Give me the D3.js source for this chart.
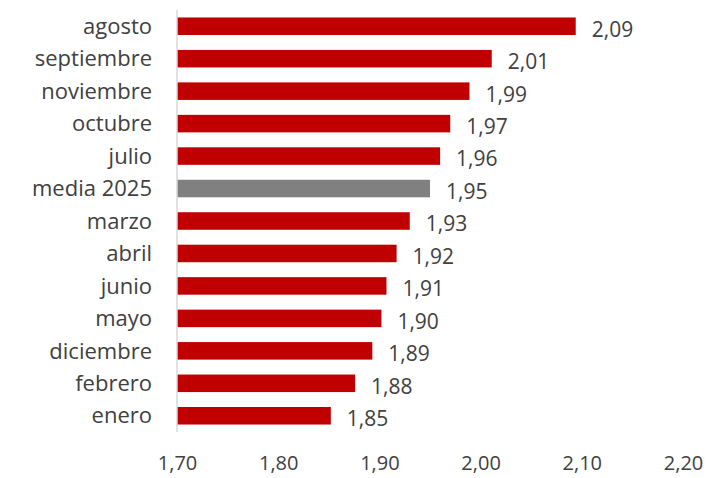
<!DOCTYPE html>
<html>
<head>
<meta charset="utf-8">
<script src="https://cdn.jsdelivr.net/npm/d3@7"></script>
<style>
  body { margin: 0; background: #fff; }
  svg text { font-family: "Open Sans", "Noto Sans", sans-serif; fill: #404040; }
</style>
</head>
<body>
<script>
// months, sorted as in the chart (top to bottom)
const months = ["agosto", "septiembre", "noviembre", "octubre", "julio", "media 2025",
  "marzo", "abril", "junio", "mayo", "diciembre", "febrero", "enero"];
const values = [2.094, 2.011, 1.989, 1.970, 1.960, 1.950,
  1.930, 1.917, 1.907, 1.902, 1.893, 1.876, 1.852];
const xTicks = [1.70, 1.80, 1.90, 2.00, 2.10, 2.20];

const data = months.map((m, i) => ({ month: m, value: values[i] }));

const fullWidth = 708;
const fullHeight = 478;
const margin = { top: 10, right: 25, bottom: 46, left: 177 };
const width = fullWidth - margin.left - margin.right;
const height = fullHeight - margin.top - margin.bottom;

const fmt = v => d3.format(".2f")(v).replace(".", ",");

const svg = d3.select("body").append("svg")
  .attr("width", fullWidth)
  .attr("height", fullHeight)
  .append("g")
  .attr("transform", `translate(${margin.left},${margin.top})`);

const x = d3.scaleLinear()
  .domain([1.70, 2.20])
  .range([0, width]);

const y = d3.scaleBand()
  .domain(months)
  .range([0, height])
  .paddingInner(0.46)
  .paddingOuter(0.23);

// bottom tick labels only, no line
const xAxis = svg.append("g")
  .attr("transform", `translate(0,${height})`)
  .call(d3.axisBottom(x).tickValues(xTicks).tickFormat(fmt).tickSize(0).tickPadding(24));
xAxis.select(".domain").remove();
xAxis.selectAll("text").style("font-size", "20px").attr("fill", "#595959");

// bars
svg.append("g")
  .selectAll("rect")
  .data(data)
  .join("rect")
    .attr("x", x(1.70))
    .attr("y", d => y(d.month))
    .attr("width", d => x(d.value) - x(1.70))
    .attr("height", y.bandwidth())
    .attr("fill", d => d.month === "media 2025" ? "#808080" : "#C00000");

// vertical axis line
svg.append("line")
  .attr("x1", 0).attr("x2", 0)
  .attr("y1", 0).attr("y2", height)
  .attr("stroke", "#d9d9d9")
  .attr("stroke-width", 1.5);

// category labels
svg.append("g")
  .selectAll("text")
  .data(data)
  .join("text")
    .attr("x", -25)
    .attr("y", d => y(d.month) + y.bandwidth() / 2)
    .attr("dy", "0.35em")
    .attr("text-anchor", "end")
    .style("font-size", "22px")
    .text(d => d.month);

// value labels
svg.append("g")
  .selectAll("text")
  .data(data)
  .join("text")
    .attr("x", d => x(d.value) + 16)
    .attr("y", d => y(d.month) + y.bandwidth() / 2 + 3)
    .attr("dy", "0.35em")
    .style("font-size", "21px")
    .text(d => fmt(d.value));
</script>
</body>
</html>
